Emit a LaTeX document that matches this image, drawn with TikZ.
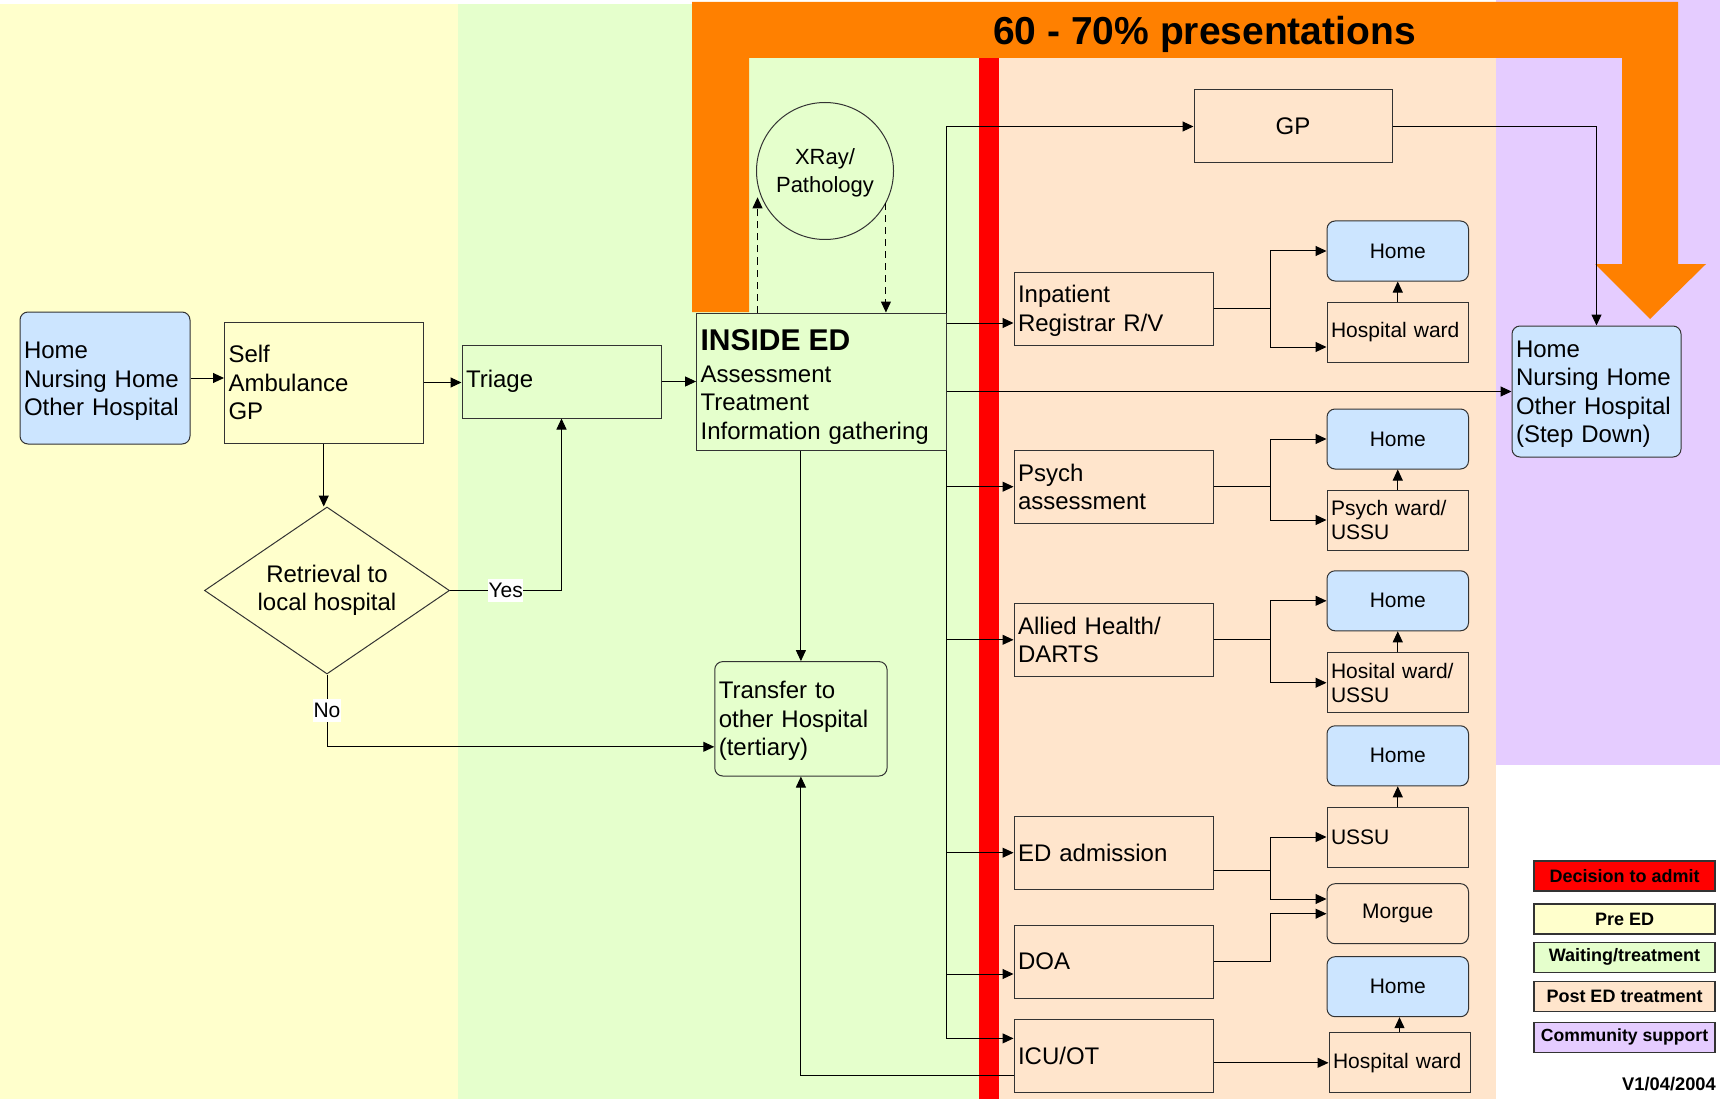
\documentclass[tikz,border=0pt]{standalone}
\usepackage{fontspec}
\setmainfont{Liberation Sans}
\usetikzlibrary{arrows.meta,shapes.geometric,calc}
\definecolor{cyel}{HTML}{FFFFCC}
\definecolor{cgrn}{HTML}{E5FFCC}
\definecolor{cpch}{HTML}{FFE5CC}
\definecolor{cpur}{HTML}{E5CCFF}
\definecolor{cblu}{HTML}{CCE5FF}
\definecolor{corg}{HTML}{FF8000}
\definecolor{cred}{HTML}{FF0000}
\newcommand{\fsA}{\fontsize{24}{28.5}\selectfont}
\newcommand{\fsB}{\fontsize{21}{24}\selectfont}
\newcommand{\fsC}{\fontsize{22}{28}\selectfont}
\newcommand{\strutH}[1]{\rule{0pt}{#1pt}}
\begin{document}
\begin{tikzpicture}[x=1pt,y=-1pt,
  box/.style={draw=black!80, line width=1pt, inner xsep=4pt, inner ysep=0pt, align=left, font=\fsA},
  sbox/.style={box, font=\fsB},
  cbox/.style={box, align=center},
  rnd/.style={rounded corners=8pt},
  arr/.style={-{Triangle[length=11pt,width=10pt]}, line width=1pt},
  lbl/.style={fill=white, inner xsep=0.5pt, inner ysep=4pt, font=\fsB},
  leg/.style={draw=black!80, line width=1.2pt, minimum width=181pt, minimum height=30pt, inner sep=0pt, font=\fontsize{18}{20}\selectfont\bfseries}
]
\useasboundingbox (0,0) rectangle (1720,1099);
\fill[white] (0,0) rectangle (1720,1099);
% bands
\fill[cyel] (0,4) rectangle (458,1099);
\fill[cgrn] (458,4) rectangle (979,1099);
\fill[cpch] (999,4) rectangle (1496,1099);
\fill[cpur] (1496,0) rectangle (1720,765);
\fill[cred] (979,58) rectangle (999,1099);
% orange arrow
\fill[corg] (692,2) -- (1678,2) -- (1678,264) -- (1706,264) -- (1650,319) -- (1595,264) -- (1622,264) -- (1622,58) -- (749,58) -- (749,312) -- (692,312) -- cycle;
\node[font=\fontsize{39}{40}\selectfont\bfseries] (title) at (1204.5,34.5) {60 - 70\% presentations};

% pre ED
\node[box, rnd, fill=cblu, text width=162pt, minimum height=132pt] (Home) at (105,378) {\strutH{23}Home\\Nursing Home\\Other Hospital};
\node[box, fill=cyel, text width=190.5pt, minimum height=121pt] (Self) at (323.75,382.5) {Self\\Ambulance\\GP};
\node[diamond, draw=black!80, line width=1pt, aspect=1.467, minimum width=245pt, minimum height=167pt, inner sep=0pt, align=center, font=\fsA] (Dia) at (327,590.5) {Retrieval to\\local hospital};

% waiting / treatment
\node[box, fill=cgrn, text width=191pt, minimum height=73pt] (Tri) at (561.5,381.5) {Triage};
\node[box, fill=cgrn, text width=241.4pt, minimum height=137pt] (ED) at (821.3,381.5) {{\fontsize{30}{32}\selectfont\bfseries\strutH{31}INSIDE ED}\\[3.5pt]Assessment\\Treatment\\Information gathering};
\node[circle, draw=black!80, line width=1pt, minimum size=137pt, inner sep=0pt, align=center, font=\fsC] (XR) at (825,171) {\strutH{19}XRay/\\Pathology};
\node[box, rnd, fill=cgrn, text width=164.3pt, minimum height=114.4pt] (Tr) at (800.9,718.8) {\strutH{22}Transfer to\\other Hospital\\(tertiary)};

% post ED middle column
\node[cbox, fill=cpch, text width=190pt, minimum height=73pt] (GP) at (1293,126.5) {GP};
\node[box, fill=cpch, text width=191pt, minimum height=73pt] (Inp) at (1113.5,308.5) {\strutH{21.5}Inpatient\\Registrar R/V};
\node[box, fill=cpch, text width=191pt, minimum height=73pt] (Psy) at (1113.5,486.7) {Psych\\assessment};
\node[box, fill=cpch, text width=191pt, minimum height=73pt] (All) at (1113.5,639.8) {Allied Health/\\DARTS};
\node[box, fill=cpch, text width=191pt, minimum height=73pt] (EDA) at (1113.5,852.7) {ED admission};
\node[box, fill=cpch, text width=191pt, minimum height=73pt] (DOA) at (1113.5,961.5) {DOA};
\node[box, fill=cpch, text width=191pt, minimum height=73pt] (ICU) at (1113.5,1056.4) {ICU/OT};

% right column
\node[sbox, rnd, fill=cblu, align=center, text width=133.5pt, minimum height=60pt] (H1) at (1397.75,251) {Home};
\node[sbox, fill=cpch, text width=133.5pt, minimum height=60pt] (W1) at (1397.75,332) {Hospital ward};
\node[sbox, rnd, fill=cblu, align=center, text width=133.5pt, minimum height=60pt] (H2) at (1397.75,439) {Home};
\node[sbox, fill=cpch, text width=133.5pt, minimum height=60pt] (W2) at (1397.75,520) {Psych ward/\\USSU};
\node[sbox, rnd, fill=cblu, align=center, text width=133.5pt, minimum height=60pt] (H3) at (1397.75,600.8) {Home};
\node[sbox, fill=cpch, text width=133.5pt, minimum height=60pt] (W3) at (1397.75,682.75) {Hosital ward/\\USSU};
\node[sbox, rnd, fill=cblu, align=center, text width=133.5pt, minimum height=60pt] (H4) at (1397.75,755.8) {Home};
\node[sbox, fill=cpch, text width=133.5pt, minimum height=60pt] (U4) at (1397.75,837) {USSU};
\node[sbox, rnd, fill=cpch, align=center, text width=133.5pt, minimum height=60pt] (Mo) at (1397.75,913.7) {Morgue};
\node[sbox, rnd, fill=cblu, align=center, text width=133.5pt, minimum height=60pt] (H5) at (1397.75,986.7) {Home};
\node[sbox, fill=cpch, text width=133pt, minimum height=60pt] (W5) at (1399.5,1062.8) {Hospital ward};

% community
\node[box, rnd, fill=cblu, text width=161pt, minimum height=131pt] (SD) at (1596.5,391.5) {\strutH{21.5}Home\\Nursing Home\\Other Hospital\\(Step Down)};

% legend
\node[leg, fill=cred] (L1) at (1624.5,876) {Decision to admit};
\node[leg, fill=cyel] (L2) at (1624.5,919) {Pre ED};
\node[leg, fill=cgrn] (L3) at (1624.5,957.3) {Waiting/treatment};
\node[leg, fill=cpch] (L4) at (1624.5,996.7) {Post ED treatment};
\node[leg, fill=cpur, font=\fontsize{17.6}{20}\selectfont\bfseries] (L5) at (1624.5,1037.2) {Community support};
\node[anchor=east, inner sep=0pt, font=\fontsize{18.3}{20}\selectfont\bfseries] (ver) at (1716,1084) {V1/04/2004};

% connectors: left part
\draw[arr] (Home.east) -- (Home.east -| Self.west);
\draw[arr] (Self.east) -- (Self.east -| Tri.west);
\draw[arr] (Tri.east) -- (Tri.east -| ED.west);
\draw[arr] (Self.south) -- (Self.south |- Dia.north);
\draw[arr] (Dia.east) -| node[pos=0.25, lbl] {Yes} (Tri.south);
\draw[arr] (Dia.south) |- node[pos=0.25, lbl] {No} ([yshift=-28pt]Tr.west);
\draw[arr] (ED.south -| Tr.north) -- (Tr.north);
\draw[arr] ([yshift=-19pt]ICU.west) -| (Tr.south);
\draw[arr, dash pattern=on 7pt off 5pt] (ED.north -| XR.192) -- ([yshift=-12pt]XR.192);
\draw[arr, dash pattern=on 7pt off 5pt] (XR.-28) -- (XR.-28 |- ED.north);

% trunk
\draw[arr] (ED.north east) |- (GP.west);
\draw[arr] ([yshift=-14.5pt]Inp.west -| ED.east) -- ([yshift=-14.5pt]Inp.west);
\draw[arr] (ED.east |- SD.west) -- (SD.west);
\draw[arr] (ED.south east) |- (Psy.west);
\draw[arr] (ED.south east) |- (All.west);
\draw[arr] (ED.south east) |- (EDA.west);
\draw[arr] (ED.south east) |- ([yshift=-12.5pt]DOA.west);
\draw[arr] (ED.south east) |- ([yshift=18pt]ICU.west);
\draw[arr] (GP.east) -| (SD.north);

% branches
\draw[arr] (Inp.east) -- ++(56.8,0) |- (H1.west);
\draw[arr] (Inp.east) -- ++(56.8,0) |- ([yshift=-15pt]W1.west);
\draw[arr] (Psy.east) -- ++(56.8,0) |- (H2.west);
\draw[arr] (Psy.east) -- ++(56.8,0) |- (W2.west);
\draw[arr] (All.east) -- ++(56.8,0) |- (H3.west);
\draw[arr] (All.east) -- ++(56.8,0) |- (W3.west);
\draw[arr] ([yshift=-17.7pt]EDA.east) -- ++(56.8,0) |- (U4.west);
\draw[arr] ([yshift=-17.7pt]EDA.east) -- ++(56.8,0) |- ([yshift=14.7pt]Mo.west);
\draw[arr] (DOA.east) -- ++(56.8,0) |- (Mo.west);
\draw[arr] (ICU.east |- W5.west) -- (W5.west);

% up arrows
\draw[arr] (W1.north) -- (H1.south);
\draw[arr] (W2.north) -- (H2.south);
\draw[arr] (W3.north) -- (H3.south);
\draw[arr] (U4.north) -- (H4.south);
\draw[arr] (W5.north) -- (W5.north |- H5.south);
\end{tikzpicture}
\end{document}
